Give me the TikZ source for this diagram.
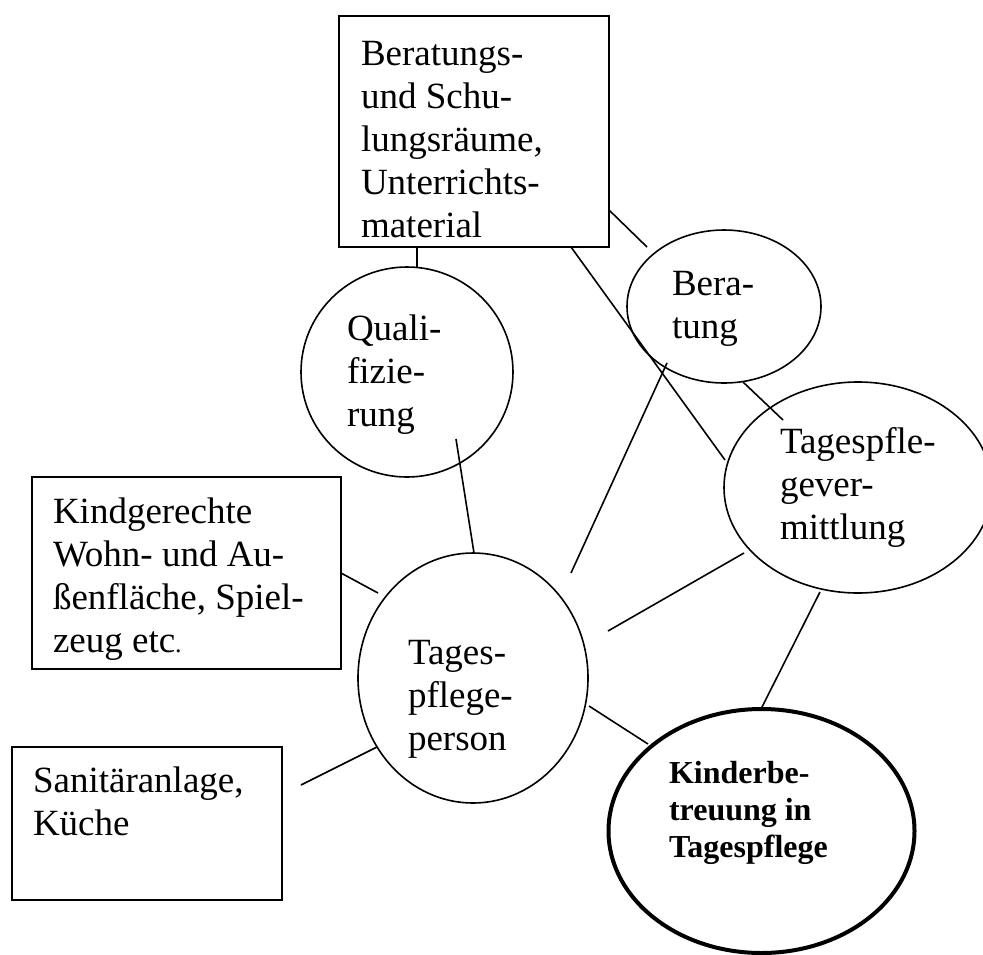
\documentclass[tikz,border=0pt]{standalone}
\usepackage{fontspec}
\setmainfont{Liberation Serif}
\usetikzlibrary{shapes.geometric}
\newcommand\mlines[1]{\vtop{\halign{##\hfil\cr#1\crcr}}}
\begin{document}
\begin{tikzpicture}[x=1pt,y=-1pt,
  box/.style={draw, line width=1.6pt, rectangle, inner sep=0pt, outer sep=0pt},
  oval/.style={draw, line width=1.6pt, ellipse, inner sep=0pt, outer sep=0pt},
  txt/.style={anchor=base west, inner sep=0pt, outer sep=0pt, font=\fontsize{37}{43}\selectfont},
  btxt/.style={anchor=base west, inner sep=0pt, outer sep=0pt, font=\fontsize{32}{37}\selectfont\bfseries},
  link/.style={line width=1.6pt}]
\useasboundingbox (0,0) rectangle (983,954);
\fill[white] (0,0) rectangle (983,954);

% shapes
\node[box, minimum width=270pt, minimum height=231pt] (B1) at (474,131.5) {};
\node[box, minimum width=309pt, minimum height=192pt] (Kg) at (186.5,573) {};
\node[box, minimum width=270pt, minimum height=153pt] (San) at (147,823.5) {};
\node[oval, minimum width=212pt, minimum height=210pt] (Qual) at (407,372) {};
\node[oval, minimum width=230pt, minimum height=250pt] (Tp) at (473,678) {};
\node[oval, minimum width=194pt, minimum height=153pt] (Ber) at (724,306.5) {};
\node[oval, minimum width=268pt, minimum height=211pt] (Tgv) at (858,487.5) {};
\node[oval, line width=4pt, minimum width=306pt, minimum height=244pt] (Kb) at (761.5,831) {};

% texts
\node[txt] (tB1) at (361,65) {\mlines{Beratungs-\cr und Schu-\cr lungsräume,\cr Unterrichts-\cr material}};
\node[txt] (tKg) at (53,523) {\mlines{Kindgerechte\cr Wohn- und Au-\cr ßenfläche, Spiel-\cr zeug etc{\fontsize{26}{26}\selectfont .}}};
\node[txt] (tSan) at (33,792) {\mlines{Sanitäranlage,\cr Küche}};
\node[txt] (tQual) at (347,340) {\mlines{Quali-\cr fizie-\cr rung}};
\node[txt] (tTp) at (408,664) {\mlines{Tages-\cr pflege-\cr person}};
\node[txt] (tBer) at (672,295) {\mlines{Bera-\cr tung}};
\node[txt] (tTgv) at (780,453) {\mlines{Tagespfle-\cr gever-\cr mittlung}};
\node[btxt] (tKb) at (669,783) {\mlines{Kinderbe-\cr treuung in\cr Tagespflege}};

% connector end points
\coordinate (a1) at (417,247);  \coordinate (a2) at (417,267);
\coordinate (b1) at (609,210);  \coordinate (b2) at (647,247);
\coordinate (c1) at (571,247);  \coordinate (c2) at (725,460);
\coordinate (d1) at (743,382);  \coordinate (d2) at (783,420);
\coordinate (e1) at (456,439);  \coordinate (e2) at (474,553);
\coordinate (f1) at (571,573);  \coordinate (f2) at (667,363);
\coordinate (g1) at (608,631);  \coordinate (g2) at (744,553);
\coordinate (h1) at (589,706);  \coordinate (h2) at (648,744);
\coordinate (i1) at (820,592);  \coordinate (i2) at (762,707);
\coordinate (j1) at (341,573);  \coordinate (j2) at (378,593);
\coordinate (k1) at (301,785);  \coordinate (k2) at (377,747);

\draw[link] (a1) -- (a2);
\draw[link] (b1) -- (b2);
\draw[link] (c1) -- (c2);
\draw[link] (d1) -- (d2);
\draw[link] (e1) -- (e2);
\draw[link] (f1) -- (f2);
\draw[link] (g1) -- (g2);
\draw[link] (h1) -- (h2);
\draw[link] (i1) -- (i2);
\draw[link] (j1) -- (j2);
\draw[link] (k1) -- (k2);
\end{tikzpicture}
\end{document}
